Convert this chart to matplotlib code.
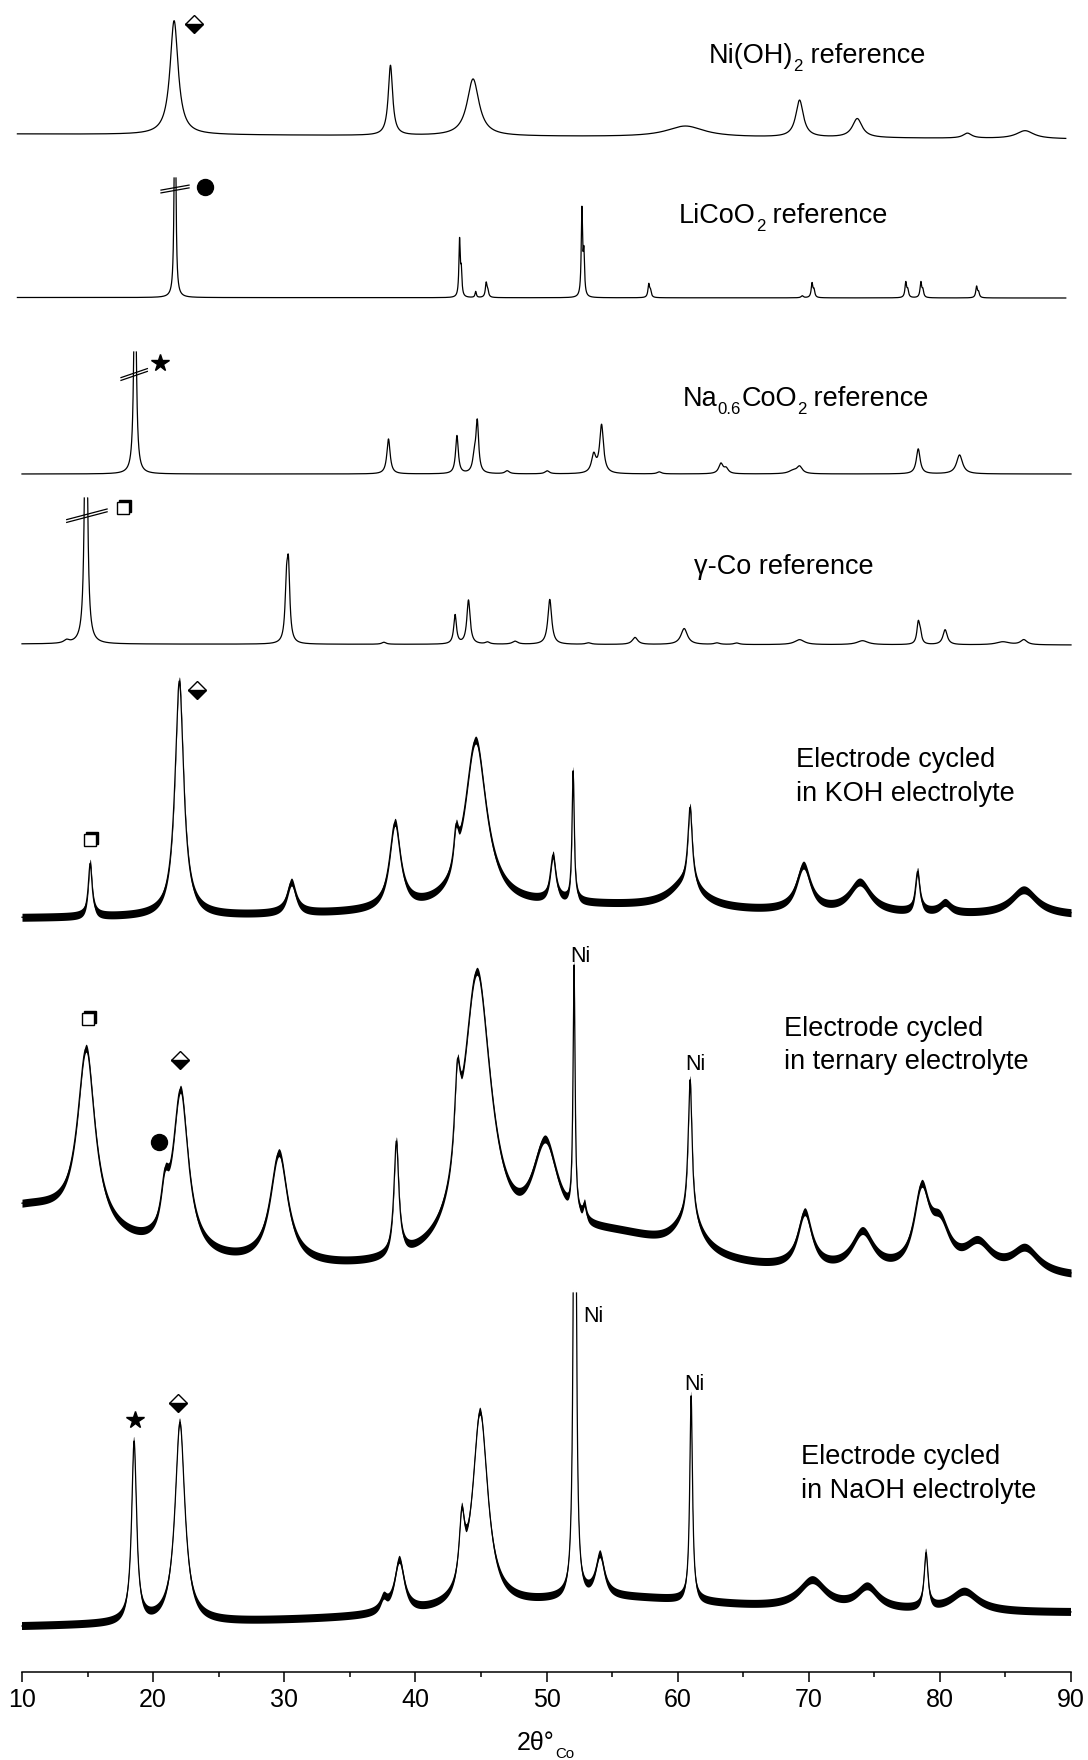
import numpy as np
import matplotlib
matplotlib.use("Agg")
import matplotlib.pyplot as plt
from matplotlib.transforms import offset_copy, IdentityTransform

plt.rcParams["font.family"] = ["Liberation Sans", "DejaVu Sans"]

############################
# Peak lists: (2theta, height, fwhm)
# heights are in pixels of the original figure (arbitrary intensity)
############################
NIOH_PEAKS = [(21.6, 114, 0.75), (38.1, 70, 0.4), (44.4, 57, 1.1), (60.6, 11, 3.5),
              (69.3, 37, 0.7), (73.7, 19, 0.9), (82.1, 5, 0.8), (86.5, 8, 1.6)]

LICOO2_PEAKS = [(21.67, 300, 0.12), (43.37, 56, 0.12), (43.5, 24, 0.12), (44.6, 6, 0.12),
                (45.4, 14, 0.15), (45.52, 6, 0.15), (52.7, 86, 0.12), (52.85, 40, 0.12),
                (57.8, 13, 0.15), (57.93, 6, 0.15), (69.5, 2, 0.2), (70.25, 14, 0.15),
                (70.4, 7, 0.15), (77.4, 15, 0.15), (77.55, 7, 0.15), (78.55, 15, 0.15),
                (78.7, 7, 0.15), (82.8, 11, 0.15), (82.95, 5, 0.15)]

NACOO2_PEAKS = [(18.62, 250, 0.2), (37.95, 35, 0.3), (43.17, 38, 0.25), (44.5, 15, 0.3),
                (44.72, 50, 0.25), (47.0, 3, 0.4), (50.05, 3, 0.4), (53.6, 18, 0.4),
                (54.2, 48, 0.35), (58.6, 2, 0.4), (63.3, 10, 0.4), (63.7, 5, 0.4),
                (68.8, 3, 0.8), (69.3, 7, 0.5), (78.35, 25, 0.35), (81.5, 19, 0.55)]

GCO_PEAKS = [(14.88, 350, 0.22), (13.4, 3, 0.5), (30.17, 50, 0.25), (30.32, 68, 0.25),
             (37.6, 2, 0.4), (43.03, 29, 0.25), (44.05, 44, 0.3), (45.5, 2, 0.4),
             (47.6, 3, 0.5), (50.25, 45, 0.35), (53.2, 1.5, 0.5), (56.75, 7, 0.5),
             (60.5, 16, 0.6), (63.0, 1.5, 0.5), (64.5, 1.5, 0.5), (69.3, 5, 0.9),
             (74.1, 4, 1.0), (78.35, 20, 0.25), (78.5, 10, 0.25), (80.4, 15, 0.4),
             (84.8, 3, 1.2), (86.4, 5, 0.6)]

KOH_PEAKS = [(52.0, 12, 28.0),  # broad background
             (15.2, 53, 0.35), (22.0, 235, 0.8), (30.55, 31, 0.8), (38.45, 85, 1.0),
             (43.1, 33, 0.4), (44.6, 167, 2.0), (50.5, 45, 0.5), (52.03, 130, 0.2),
             (60.6, 25, 3.0), (60.95, 77, 0.4), (69.6, 45, 1.3), (73.9, 30, 2.0),
             (78.3, 40, 0.4), (80.4, 10, 1.0), (86.4, 25, 2.4)]

TERNARY_PEAKS = [(10.0, 70, 16.0), (55.0, 38, 14.0),  # broad background
                 (14.9, 177, 1.6), (20.9, 40, 0.7), (22.1, 160, 1.4), (29.6, 110, 1.6),
                 (38.55, 113, 0.45), (43.2, 80, 0.5), (44.7, 285, 2.6), (49.9, 95, 2.4),
                 (52.1, 248, 0.18), (52.9, 15, 0.3), (60.8, 35, 2.5), (60.95, 138, 0.35),
                 (69.7, 55, 1.3), (74.1, 38, 2.0), (78.6, 75, 1.4), (80.0, 40, 1.8),
                 (82.9, 28, 2.5), (86.5, 25, 2.5)]

NAOH_PEAKS = [(55.0, 22, 24.0),  # broad background
              (18.55, 180, 0.45), (22.05, 200, 0.9), (37.6, 12, 0.6), (38.8, 52, 0.9),
              (43.55, 64, 0.5), (44.95, 195, 1.4), (52.16, 800, 0.2), (54.1, 41, 0.8),
              (61.03, 205, 0.25), (70.3, 28, 2.5), (74.5, 22, 2.0), (78.95, 55, 0.35),
              (81.9, 20, 2.5)]

# scan range, baseline (px from top at start / end), noise half band, clip level
PATTERNS = [
    ("nioh", NIOH_PEAKS, (9.65, 89.6), (134, 139), 0, None),
    ("licoo2", LICOO2_PEAKS, (9.65, 89.6), (297.5, 298), 0, 178),
    ("nacoo2", NACOO2_PEAKS, (10.0, 90.0), (474, 474), 0, 352),
    ("gco", GCO_PEAKS, (10.0, 90.0), (644, 645), 0, 498),
    ("koh", KOH_PEAKS, (10.0, 90.0), (919, 917), 4, None),
    ("ternary", TERNARY_PEAKS, (10.0, 90.0), (1280, 1280), 4, None),
    ("naoh", NAOH_PEAKS, (10.0, 90.0), (1628, 1615), 4, 1293),
]

# axis-break slashes: (x_left, y_left, x_right, y_right)
BREAKS = [(20.6, 191.5, 22.74, 186.5),
          (17.55, 379, 19.56, 370),
          (13.41, 521, 16.49, 510.4)]

# label pieces: (text, is_subscript)
LABELS = [([("Ni(OH)", 0), ("2", 1), (" reference", 0)], 62.39, 62.7),
          ([("LiCoO", 0), ("2", 1), (" reference", 0)], 60.1, 222.7),
          ([("Na", 0), ("0.6", 1), ("CoO", 0), ("2", 1), (" reference", 0)], 60.41, 406),
          ([("\u03b3-Co reference", 0)], 61.25, 574)]
ELECTRODE_LABELS = [("Electrode cycled", 69.0, 766.7), ("in KOH electrolyte", 69.0, 800.7),
                    ("Electrode cycled", 68.09, 1036), ("in ternary electrolyte", 68.09, 1069.3),
                    ("Electrode cycled", 69.4, 1464), ("in NaOH electrolyte", 69.4, 1498.3)]
NI_LABELS = [(52.55, 956), (61.35, 1064), (53.55, 1316), (61.27, 1385)]
XLABEL = [("2\u03b8\u00b0", 0), ("Co", 1)]

DIAMONDS = [(23.1, 24), (23.35, 690), (22.05, 1060), (21.9, 1403)]
CIRCLES = [(23.96, 187.3), (20.42, 1141.7)]
STARS = [(20.5, 363.3), (18.6, 1420)]
SQUARES = [(17.7, 508), (15.2, 840), (15.06, 1019)]


def lorentz_sum(x, peaks):
    out = np.zeros_like(x)
    for c, h, w in peaks:
        out += h / (1.0 + ((x - c) / (w / 2.0)) ** 2)
    return out


def cut_top(y, cap):
    # peaks running off the top: legs end at the cap, no line across
    over = y < cap
    inner = over & np.roll(over, 1) & np.roll(over, -1)
    y = np.where(over, cap, y)
    y[inner] = np.nan
    return y


def rich_text(fig, renderer, X, Y, pieces, fs, sub_scale=0.62, drop=0.3):
    # X, Y in display pixels (baseline start)
    for s, sub in pieces:
        size = fs * sub_scale if sub else fs
        yy = Y - drop * fs * 100 / 72 if sub else Y
        t = fig.text(X, yy, s, fontsize=size, ha="left", va="baseline",
                     transform=IdentityTransform())
        X = t.get_window_extent(renderer).x1


def main():
    fig = plt.figure(figsize=(10.88, 17.6), dpi=100)
    ax = fig.add_axes([22 / 1088, 88 / 1760, 1049 / 1088, 1672 / 1760])
    ax.set_xlim(10, 90)
    ax.set_ylim(1672, 0)
    renderer = fig.canvas.get_renderer()

    for name, peaks, (x0, x1), (b0, b1), noise, cap in PATTERNS:
        x = np.linspace(x0, x1, 16000)
        base = b0 + (b1 - b0) * (x - x0) / (x1 - x0)
        y = base - lorentz_sum(x, peaks)
        if cap is not None:
            y = cut_top(y, cap)
        if noise:
            ax.fill_between(x, y - noise, y + noise, color="k", lw=0, clip_on=False)
        ax.plot(x, y, color="k", lw=0.9, clip_on=False)

    for xl, yl, xr, yr in BREAKS:
        for off in (-1.4, 1.4):
            ax.plot([xl, xr], [yl + off, yr + off], color="k", lw=0.9)

    for pieces, xx, yy in LABELS:
        X, Y = ax.transData.transform((xx, yy))
        rich_text(fig, renderer, X, Y, pieces, 19.5)
    for txt, xx, yy in ELECTRODE_LABELS:
        ax.text(xx, yy, txt, fontsize=19.5, ha="left", va="baseline")
    for xx, yy in NI_LABELS:
        ax.text(xx, yy, "Ni", fontsize=15.5, ha="center", va="center")

    for xx, yy in DIAMONDS:
        ax.plot(xx, yy, marker="D", ms=9.2, fillstyle="bottom", mfc="k",
                mfcalt="w", mec="k", mew=1.0, ls="none")
    for xx, yy in CIRCLES:
        ax.plot(xx, yy, marker="o", ms=11.5, color="k", ls="none")
    for xx, yy in STARS:
        ax.plot(xx, yy, marker="*", ms=13, color="k", ls="none")
    shadow = offset_copy(ax.transData, fig=fig, x=2, y=2, units="dots")
    for xx, yy in SQUARES:
        ax.plot(xx, yy, marker="s", ms=8.5, color="k", ls="none", transform=shadow)
        ax.plot(xx, yy, marker="s", ms=8.5, mfc="w", mec="k", mew=1.0, ls="none")

    for s in ("top", "left", "right"):
        ax.spines[s].set_visible(False)
    ax.spines["bottom"].set_linewidth(1.1)
    ax.set_yticks([])
    ax.set_xticks(range(10, 91, 10))
    ax.set_xticks(range(15, 90, 10), minor=True)
    ax.tick_params(axis="x", which="major", direction="out", length=7.2, width=1.1, pad=4.3)
    ax.tick_params(axis="x", which="minor", direction="out", length=3.6, width=1.1)
    for lab in ax.get_xticklabels():
        lab.set_fontfamily(["Liberation Sans Narrow", "Liberation Sans"])
        lab.set_fontsize(18)
    # axis title "2θ°Co", baseline ~1750 px from top, starting near x=517 px
    rich_text(fig, renderer, 517, 1760 - 1750, XLABEL, 18, sub_scale=0.6, drop=0.3)
    ax.patch.set_visible(False)

    fig.savefig("out.png", dpi=100)


if __name__ == "__main__":
    main()
